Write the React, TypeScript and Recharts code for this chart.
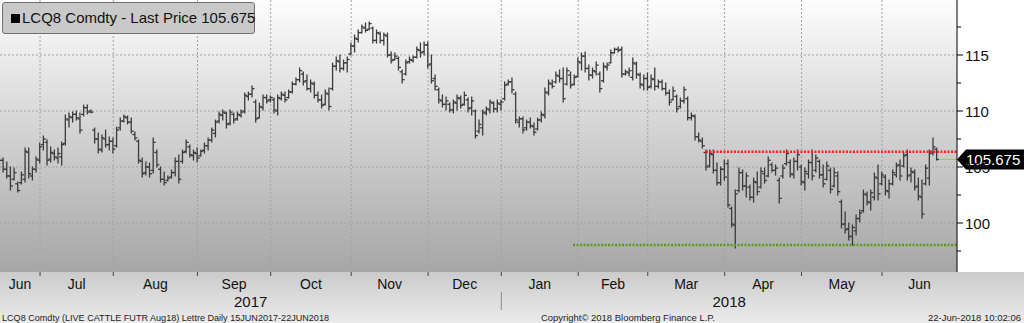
import React from 'react';
import { ComposedChart, Bar, XAxis, YAxis, CartesianGrid, ReferenceLine } from 'recharts';

// ---- categories ----
const monthLabels = ['Jun', 'Jul', 'Aug', 'Sep', 'Oct', 'Nov', 'Dec', 'Jan', 'Feb', 'Mar', 'Apr', 'May', 'Jun'];
const monthTradingDays = [12, 20, 23, 20, 22, 21, 20, 21, 19, 21, 21, 22, 16];
const yearLabels = ['2017', '2018'];
const yearMonthCounts = [7, 6];

// ---- daily OHLC (LCQ8, 15 Jun 2017 - 22 Jun 2018) ----
const highs = [
  105.62, 105.89, 105.8, 105.44, 105.0, 104.91, 103.66, 104.55, 106.69, 106.69, 105.0, 105.89,
  107.14, 107.77, 107.41, 106.78, 106.51, 106.69, 107.23, 109.64, 109.82, 109.91, 110.0, 109.82, 110.53, 110.53, 110.09, 108.48, 108.03, 107.85, 108.3, 107.68,
  107.59, 108.57, 109.37, 109.64, 109.55, 109.37, 108.12, 107.41, 105.8, 105.44, 105.35, 107.59, 106.51, 105.0, 104.55, 104.19, 104.73, 105.8, 106.07, 106.51, 107.41, 106.96, 106.51,
  106.69, 106.51, 107.14, 107.59, 108.48, 109.19, 109.91, 110.09, 109.91, 110.09, 109.82, 109.91, 110.09, 111.61, 111.69, 112.23, 110.98, 110.71, 111.43, 111.43,
  111.34, 111.16, 111.43, 111.69, 111.69, 111.87, 112.59, 112.94, 113.84, 113.48, 113.21, 112.77, 112.59, 111.69, 111.43, 111.87, 112.05, 114.28, 114.82, 115.0, 114.55, 114.82,
  116.07, 116.78, 117.23, 117.68, 117.86, 117.95, 117.5, 117.23, 117.05, 116.96, 116.96, 115.27, 115.18, 114.82, 113.66, 114.55, 114.82, 114.91, 115.71, 116.07, 116.16,
  116.16, 115.0, 113.21, 112.05, 111.43, 111.25, 110.71, 110.98, 111.43, 111.34, 111.69, 111.16, 111.25, 110.09, 109.19, 110.09, 110.35, 110.98, 110.8, 110.98,
  110.98, 112.59, 112.77, 112.94, 111.69, 109.46, 109.46, 109.19, 109.37, 108.93, 109.37, 109.91, 112.05, 112.77, 112.77, 113.48, 113.66, 113.84, 113.84, 113.48, 113.21,
  114.73, 115.18, 115.27, 114.11, 113.84, 114.37, 113.48, 114.28, 114.28, 115.44, 115.62, 115.71, 115.71, 113.66, 113.84, 114.73, 114.37, 113.39, 113.21,
  113.39, 113.21, 113.84, 112.77, 112.77, 112.5, 111.87, 112.14, 111.43, 111.16, 112.14, 111.25, 109.82, 109.64, 108.03, 107.59, 106.51, 106.51, 106.51, 105.35, 105.0,
  105.62, 105.62, 101.42, 102.94, 104.91, 104.73, 104.46, 103.39, 104.01, 104.55, 104.91, 104.91, 105.89, 105.35, 105.18, 104.01, 105.18, 106.51, 105.62, 105.8, 106.51,
  105.18, 104.91, 105.62, 106.51, 106.07, 105.62, 105.18, 105.44, 104.91, 104.91, 104.55, 102.05, 100.98, 100.0, 99.82, 100.71, 101.16, 102.94, 102.76, 102.94, 104.46, 105.18,
  104.55, 104.28, 103.84, 104.73, 105.35, 105.62, 106.25, 106.51, 104.91, 104.73, 104.01, 103.84, 105.18, 106.51, 107.59, 106.69,
];
const lows = [
  104.55, 104.73, 104.55, 104.01, 102.94, 103.84, 102.76, 103.48, 103.66, 104.01, 103.84, 104.55,
  105.35, 106.51, 105.18, 105.44, 105.62, 105.35, 105.18, 106.96, 108.57, 109.02, 109.19, 108.03, 109.55, 109.73, 109.82, 107.14, 106.25, 106.34, 106.78, 106.51,
  106.25, 106.78, 108.3, 109.02, 108.84, 108.03, 107.41, 105.35, 104.1, 104.28, 104.1, 104.46, 105.0, 103.66, 103.39, 103.75, 104.01, 104.19, 103.57, 105.35, 106.25, 105.89, 105.62,
  105.44, 105.98, 106.25, 106.51, 107.23, 107.68, 108.93, 109.19, 108.48, 108.75, 108.93, 109.19, 109.46, 109.82, 110.98, 111.25, 109.02, 109.37, 110.09, 110.71,
  110.8, 109.82, 109.64, 110.98, 110.8, 111.16, 111.61, 112.32, 112.59, 112.32, 111.87, 111.69, 111.16, 110.8, 110.27, 110.53, 110.09, 111.87, 113.66, 113.48, 113.66, 113.48,
  115.0, 115.27, 116.16, 116.96, 117.05, 117.23, 116.07, 116.07, 116.07, 115.89, 114.82, 114.28, 114.55, 113.66, 112.5, 113.21, 114.28, 114.37, 114.73, 114.82, 115.0,
  113.84, 112.5, 111.87, 110.71, 110.35, 110.09, 109.91, 109.82, 110.09, 110.27, 110.53, 109.91, 109.64, 107.59, 108.03, 107.85, 109.64, 109.82, 109.91, 109.91,
  110.09, 110.98, 112.32, 111.61, 108.93, 108.57, 108.03, 108.3, 108.48, 107.85, 108.3, 109.02, 109.37, 111.43, 112.05, 112.5, 112.59, 110.8, 112.32, 112.05, 112.32,
  113.03, 113.66, 113.48, 112.77, 112.94, 113.21, 111.69, 112.59, 113.66, 114.28, 115.18, 115.27, 113.03, 113.21, 113.12, 112.77, 112.94, 112.05, 111.87,
  111.87, 112.05, 111.87, 112.05, 111.87, 111.43, 110.53, 110.98, 109.91, 110.27, 110.71, 109.19, 109.19, 107.41, 107.23, 106.69, 104.73, 105.0, 104.46, 103.39, 103.39,
  103.84, 101.42, 99.64, 97.76, 102.76, 102.94, 102.32, 102.05, 101.87, 102.5, 103.12, 103.57, 104.1, 104.55, 104.28, 101.78, 104.01, 105.18, 104.1, 104.01, 104.73,
  103.39, 102.94, 104.01, 103.84, 104.55, 104.01, 103.21, 103.84, 102.68, 103.21, 102.5, 99.55, 99.1, 98.48, 98.03, 98.92, 100.09, 100.98, 101.6, 101.16, 102.05, 102.05,
  103.39, 102.5, 102.23, 103.39, 104.1, 103.84, 105.0, 103.84, 103.66, 102.94, 102.05, 100.44, 103.39, 103.39, 106.07, 105.62,
];
const opens = [
  105.2, 104.9, 105.6, 104.8, 104.2, 103.9, 103.5, 103.6, 103.9, 106.3, 104.2, 104.8,
  105.6, 107.0, 107.2, 105.7, 106.2, 105.8, 105.9, 107.1, 109.2, 109.4, 109.7, 109.3, 109.7, 110.3, 110.0, 108.3, 107.5, 106.5, 107.5, 107.0,
  107.3, 106.9, 108.5, 109.1, 109.4, 109.0, 107.9, 107.3, 105.5, 104.5, 105.0, 104.7, 106.3, 104.8, 103.9, 103.8, 104.1, 104.5, 105.5, 105.5, 106.4, 106.8, 106.0,
  106.2, 106.0, 106.5, 106.9, 107.4, 108.0, 109.1, 109.6, 109.8, 108.9, 109.7, 109.3, 109.6, 110.0, 111.3, 111.5, 110.8, 109.4, 110.3, 111.2,
  111.0, 111.0, 110.0, 111.1, 111.4, 111.2, 111.7, 112.4, 112.8, 113.3, 112.7, 112.0, 112.4, 111.4, 111.0, 110.6, 111.5, 112.0, 114.0, 114.4, 113.8, 114.3,
  115.1, 115.8, 116.4, 117.0, 117.4, 117.3, 117.4, 116.3, 116.9, 116.3, 116.7, 115.0, 114.6, 114.7, 113.5, 113.3, 114.4, 114.5, 114.8, 115.4, 115.3,
  115.9, 114.2, 112.9, 111.9, 110.9, 110.6, 110.6, 110.1, 110.7, 111.1, 110.6, 111.0, 110.3, 110.0, 108.2, 108.5, 109.8, 110.1, 110.7, 110.2,
  110.6, 111.1, 112.4, 112.6, 111.5, 109.0, 109.3, 108.5, 109.0, 108.6, 108.4, 109.2, 109.6, 111.6, 112.4, 112.6, 113.1, 112.9, 112.4, 113.2, 112.4,
  113.1, 114.3, 114.9, 113.8, 113.2, 113.5, 113.3, 112.7, 113.9, 114.3, 115.2, 115.5, 115.5, 113.3, 113.4, 113.0, 114.2, 113.2, 112.3,
  112.9, 112.2, 112.8, 112.2, 112.6, 112.0, 111.6, 111.0, 111.3, 110.4, 110.9, 111.1, 109.4, 109.5, 107.7, 107.3, 106.3, 105.1, 106.1, 104.7, 103.6,
  104.8, 105.3, 101.3, 99.8, 102.9, 104.5, 103.3, 103.2, 102.3, 103.6, 103.2, 104.4, 104.2, 105.2, 104.7, 103.8, 104.2, 105.3, 105.4, 104.3, 105.5,
  105.0, 103.6, 104.4, 105.4, 104.7, 105.5, 104.3, 103.9, 104.7, 103.3, 104.2, 101.9, 99.9, 99.5, 98.8, 99.3, 100.4, 101.1, 102.5, 101.8, 102.3, 104.0,
  103.5, 104.1, 102.8, 103.5, 104.3, 105.2, 105.1, 106.1, 104.3, 104.5, 103.3, 102.3, 103.5, 104.0, 106.3, 106.6,
];
const closes = [
  104.9, 105.6, 104.8, 104.2, 103.3, 104.5, 102.9, 104.3, 106.4, 104.4, 104.8, 105.7,
  106.8, 107.5, 105.6, 106.3, 105.9, 106.2, 107.0, 109.3, 109.5, 109.7, 109.4, 108.3, 110.3, 109.9, 109.9, 107.5, 106.6, 107.6, 107.0, 107.3,
  106.6, 108.3, 109.1, 109.5, 109.0, 108.2, 107.6, 105.6, 104.4, 105.0, 104.4, 107.2, 105.2, 103.9, 103.6, 104.0, 104.5, 105.5, 103.9, 106.3, 107.2, 106.1, 106.3,
  105.8, 106.4, 106.9, 107.4, 108.3, 109.0, 109.7, 109.9, 108.8, 109.9, 109.2, 109.7, 109.9, 111.4, 111.5, 112.0, 109.3, 110.4, 111.2, 110.9,
  111.2, 110.1, 111.2, 111.5, 111.0, 111.7, 112.4, 112.8, 113.6, 112.6, 112.0, 112.5, 111.4, 111.0, 110.5, 111.6, 110.4, 114.0, 114.5, 113.8, 114.3, 114.6,
  115.8, 116.5, 117.0, 117.5, 117.2, 117.8, 116.3, 117.0, 116.3, 116.8, 115.0, 114.5, 114.9, 113.9, 112.8, 114.3, 114.6, 114.8, 115.5, 115.2, 115.9,
  114.1, 112.7, 112.2, 111.0, 110.6, 110.9, 110.1, 110.8, 111.2, 110.5, 111.4, 110.2, 110.9, 107.8, 108.8, 109.9, 110.2, 110.8, 110.2, 110.7,
  110.8, 112.3, 112.6, 111.9, 109.2, 109.3, 108.3, 109.0, 108.7, 108.1, 109.2, 109.7, 111.7, 112.5, 112.2, 113.2, 112.9, 111.1, 113.6, 112.3, 113.0,
  114.4, 114.9, 113.8, 113.2, 113.6, 114.1, 112.0, 114.0, 114.1, 115.2, 115.5, 115.4, 113.3, 113.5, 113.6, 114.3, 113.3, 112.4, 112.9,
  112.1, 112.9, 112.2, 112.6, 112.0, 111.6, 110.8, 111.8, 110.2, 110.9, 111.9, 109.4, 109.6, 107.7, 107.4, 106.9, 105.0, 106.2, 104.7, 103.6, 104.8,
  104.1, 101.6, 99.9, 102.6, 104.5, 103.3, 104.2, 102.3, 103.7, 102.8, 104.6, 103.8, 105.6, 104.7, 104.9, 102.2, 104.9, 106.2, 104.4, 105.5, 106.1,
  103.7, 104.6, 105.4, 104.2, 105.8, 104.3, 103.5, 105.1, 103.0, 104.5, 102.8, 99.9, 99.4, 98.8, 99.6, 100.4, 100.9, 102.6, 101.9, 102.7, 104.1, 102.6,
  104.3, 102.9, 103.5, 104.5, 105.1, 104.2, 106.0, 104.2, 104.6, 103.2, 102.4, 100.8, 104.9, 106.2, 106.8, 105.675,
];

// ---- annotations ----
const lastPrice = 105.675;
const resistanceLevel = 106.37;
const resistanceFrom = 193.9;
const supportLevel = 98.04;
const supportFrom = 157.6;

// ---- axis setup ----
const yTicks = [97.5, 100, 102.5, 105, 107.5, 110, 112.5, 115, 117.5];
const yGrid = [100, 105, 110, 115];
const X_MIN = 1.065;
const X_MAX = 262.47;
const Y_MIN = 95.625;
const Y_MAX = 119.911;

const FONT = 'Liberation Sans, Arial, Helvetica, sans-serif';

const data = highs.map((h, i) => ({
  i,
  range: [lows[i], h],
  h,
  l: lows[i],
  o: opens[i],
  c: closes[i],
}));

const monthStarts: number[] = [];
monthTradingDays.reduce((acc, d) => {
  monthStarts.push(acc);
  return acc + d;
}, 0);

type TickItem = { kind: 'start' | 'month' | 'year' | 'sep'; label?: string };
const tickInfo = new Map<number, TickItem[]>();
const addTick = (v: number, item: TickItem) => {
  const arr = tickInfo.get(v) || [];
  arr.push(item);
  tickInfo.set(v, arr);
};
monthStarts.forEach((s, k) => {
  if (s > X_MIN) addTick(s, { kind: 'start' });
  const a = Math.max(s, X_MIN);
  const b = k + 1 < monthStarts.length ? monthStarts[k + 1] : X_MAX;
  addTick((a + b) / 2, { kind: 'month', label: monthLabels[k] });
});
{
  let m = 0;
  yearLabels.forEach((yl, k) => {
    const s = monthStarts[m];
    const nextM = m + yearMonthCounts[k];
    const e = nextM < monthStarts.length ? monthStarts[nextM] : X_MAX;
    const a = Math.max(s, X_MIN);
    addTick((a + e) / 2, { kind: 'year', label: yl });
    if (k > 0) addTick(s, { kind: 'sep' });
    m = nextM;
  });
}
const xTicks = Array.from(tickInfo.keys()).sort((a, b) => a - b);

const OHLCShape = (props: any) => {
  const { x, y, width, height, payload } = props;
  if (x == null || y == null) return null;
  const cx = x + width / 2;
  const top = Math.min(y, y + height);
  const bot = Math.max(y, y + height);
  const span = payload.h - payload.l || 1;
  const py = (v: number) => top + ((payload.h - v) / span) * (bot - top);
  const yo = py(payload.o);
  const yc = py(payload.c);
  return (
    <g stroke="#3b3b3b" strokeWidth={1.3}>
      <line x1={cx} x2={cx} y1={top - 0.5} y2={bot + 0.5} />
      <line x1={cx - 2.5} x2={cx} y1={yo} y2={yo} />
      <line x1={cx} x2={cx + 2.5} y1={yc} y2={yc} />
    </g>
  );
};

const XTick = (props: any) => {
  const { x, y, payload } = props;
  const items = tickInfo.get(payload.value) || [];
  return (
    <g>
      {items.map((it, k) => {
        if (it.kind === 'start')
          return <line key={k} x1={x} x2={x} y1={y} y2={y + 4} stroke="#444" strokeWidth={1} />;
        if (it.kind === 'sep')
          return <line key={k} x1={x} x2={x} y1={y + 20} y2={y + 38} stroke="#8a8a8a" strokeWidth={1} />;
        if (it.kind === 'month')
          return (
            <text key={k} x={x} y={y + 17} textAnchor="middle" fontSize={14} fill="#111" fontFamily={FONT}>
              {it.label}
            </text>
          );
        return (
          <text key={k} x={x} y={y + 35} textAnchor="middle" fontSize={15} fill="#111" fontFamily={FONT}>
            {it.label}
          </text>
        );
      })}
    </g>
  );
};

const YTick = (props: any) => {
  const { x, y, payload } = props;
  const v = payload.value as number;
  const major = Math.abs(v % 5) < 1e-6;
  return (
    <g>
      <line x1={x} x2={x + (major ? 6 : 4)} y1={y} y2={y} stroke="#000" strokeWidth={1} />
      {major && (
        <text x={x + 8} y={y + 5.5} fontSize={15} fill="#111" fontFamily={FONT}>
          {v}
        </text>
      )}
    </g>
  );
};

const PriceTag = (props: any) => {
  const vb = props.viewBox || {};
  const xr = (vb.x || 0) + (vb.width || 0);
  const cy = vb.y || 0;
  return (
    <g>
      <polygon
        points={`${xr},${cy} ${xr + 9},${cy - 10} ${xr + 67},${cy - 10} ${xr + 67},${cy + 10} ${xr + 9},${cy + 10}`}
        fill="#000"
      />
      <text x={xr + 9} y={cy + 5.5} fontSize={15} fill="#fff" fontFamily={FONT}>
        {lastPrice.toFixed(3)}
      </text>
    </g>
  );
};

export default function App() {
  return (
    <div
      style={{
        position: 'relative',
        width: 1024,
        height: 323,
        overflow: 'hidden',
        fontFamily: FONT,
        background: 'linear-gradient(to bottom, #ffffff 0px, #ffffff 272px, #cbcbcb 272px, #ebebeb 323px)',
      }}
    >
      <style>{'body{margin:0;}'}</style>
      <ComposedChart width={1024} height={323} data={data} margin={{ top: 0, right: 0, bottom: 0, left: 0 }}>
        <defs>
          <linearGradient id="plotBg" x1="0" y1="0" x2="0" y2="1">
            <stop offset="0" stopColor="#fdfdfd" />
            <stop offset="1" stopColor="#a6a6a6" />
          </linearGradient>
        </defs>
        <CartesianGrid
          horizontalValues={yGrid}
          verticalValues={monthStarts.filter((s) => s > X_MIN)}
          stroke="#a3a3a3"
          strokeDasharray="2 2"
          fill="url(#plotBg)"
          fillOpacity={1}
        />
        <XAxis
          type="number"
          dataKey="i"
          domain={[X_MIN, X_MAX]}
          allowDataOverflow
          ticks={xTicks}
          interval={0}
          tick={(p: any) => <XTick {...p} />}
          tickLine={false}
          axisLine={false}
          tickSize={0}
          tickMargin={0}
          height={51}
        />
        <YAxis
          orientation="right"
          type="number"
          domain={[Y_MIN, Y_MAX]}
          allowDataOverflow
          ticks={yTicks}
          interval={0}
          width={67}
          tick={(p: any) => <YTick {...p} />}
          tickLine={false}
          tickSize={0}
          tickMargin={0}
          axisLine={{ stroke: '#000', strokeWidth: 1 }}
        />
        <Bar dataKey="range" barSize={3} shape={OHLCShape} isAnimationActive={false} />
        <ReferenceLine
          segment={[{ x: supportFrom, y: supportLevel }, { x: X_MAX, y: supportLevel }]}
          stroke="#5e9a17"
          strokeWidth={2.5}
          strokeDasharray="2 1.5"
          ifOverflow="visible"
        />
        <ReferenceLine
          segment={[{ x: resistanceFrom, y: resistanceLevel }, { x: X_MAX, y: resistanceLevel }]}
          stroke="#ff1f1f"
          strokeWidth={2.5}
          strokeDasharray="2 1.5"
          ifOverflow="visible"
        />
        <ReferenceLine
          segment={[{ x: 257.6, y: lastPrice }, { x: X_MAX, y: lastPrice }]}
          stroke="#eea24a"
          strokeWidth={1}
          ifOverflow="visible"
        />
        <ReferenceLine y={lastPrice} stroke="none" ifOverflow="visible" label={(p: any) => <PriceTag {...p} />} />
      </ComposedChart>

      <div
        style={{
          position: 'absolute',
          left: 2,
          top: 2,
          width: 253,
          height: 32,
          background: '#c9c9c9',
          border: '1px solid #707070',
          borderRadius: 3,
          boxSizing: 'border-box',
          fontSize: 15,
          lineHeight: '30px',
          paddingLeft: 8,
          color: '#111',
          whiteSpace: 'nowrap',
        }}
      >
        <span
          style={{
            display: 'inline-block',
            width: 9,
            height: 9,
            background: '#000',
            marginRight: 2,
            verticalAlign: 'baseline',
            position: 'relative',
            top: 0,
          }}
        />
        LCQ8 Comdty - Last Price 105.675
      </div>

      <svg
        width={1024}
        height={323}
        style={{ position: 'absolute', left: 0, top: 0, pointerEvents: 'none' }}
      >
        <text x={2} y={321} fontSize={9.5} fill="#222" fontFamily={FONT} textLength={327} lengthAdjust="spacingAndGlyphs">
          LCQ8 Comdty (LIVE CATTLE FUTR  Aug18) Lettre  Daily 15JUN2017-22JUN2018
        </text>
        <text x={541} y={321} fontSize={9.5} fill="#222" fontFamily={FONT} textLength={174} lengthAdjust="spacingAndGlyphs">
          Copyright© 2018 Bloomberg Finance L.P.
        </text>
        <text x={1021} y={321} fontSize={9.5} fill="#222" fontFamily={FONT} textAnchor="end">
          22-Jun-2018 10:02:06
        </text>
      </svg>
    </div>
  );
}
